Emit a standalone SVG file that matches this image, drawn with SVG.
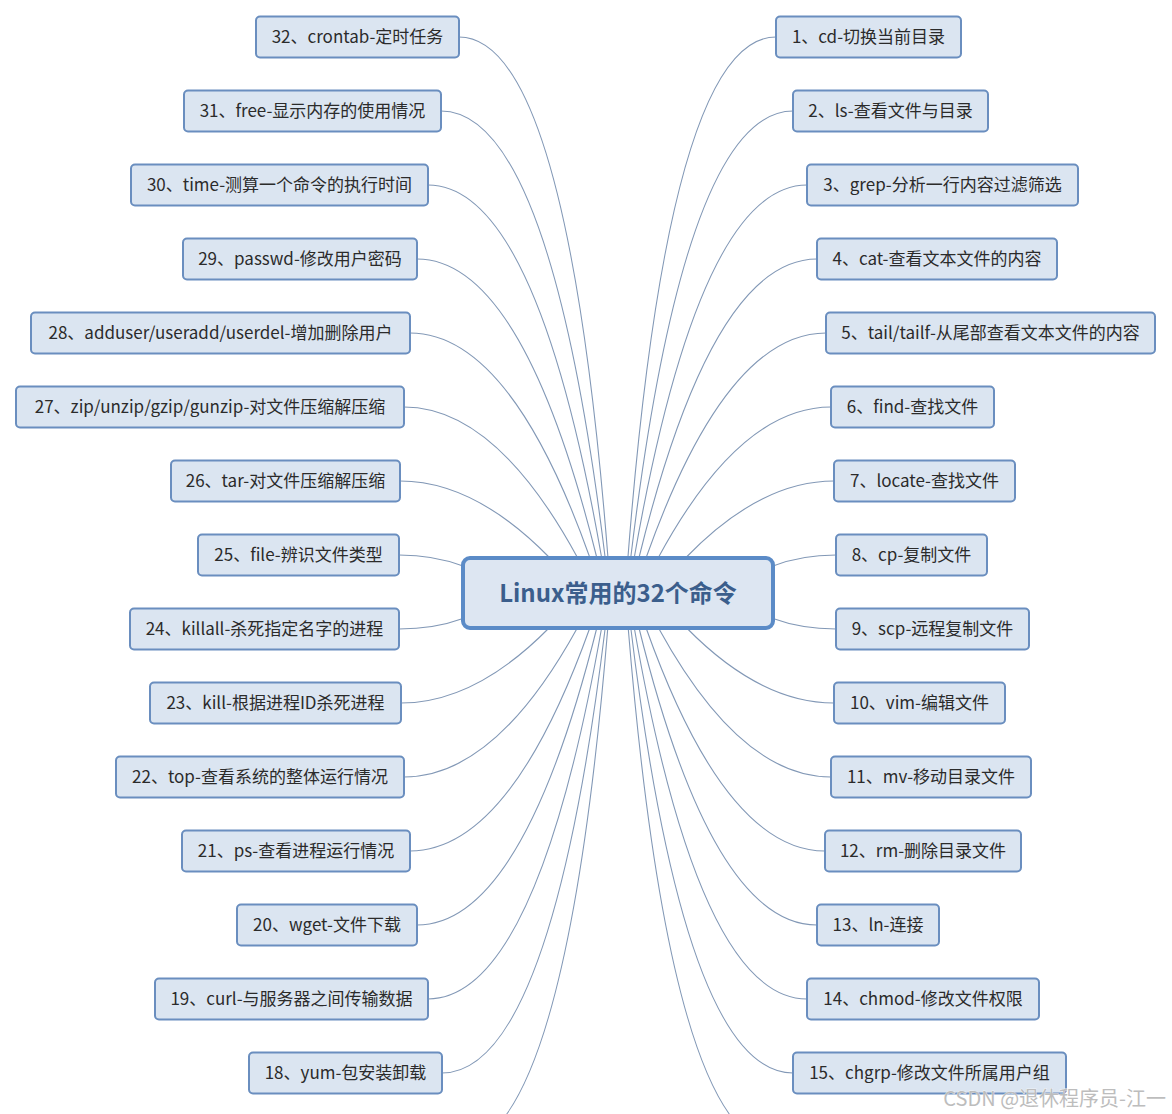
<svg xmlns="http://www.w3.org/2000/svg" width="1172" height="1114" viewBox="0 0 1172 1114">
<style>
.bg{fill:#ffffff}
.ln{fill:none;stroke:#8298b6;stroke-width:1.1}
.box{fill:#dbe5f1;stroke:#6a8ebf;stroke-width:2}
.lbl{font-family:"Noto Sans CJK SC","Microsoft YaHei","Noto Sans",sans-serif;font-size:17px;fill:#2b2b2b}
.root{fill:#dde6f2;stroke:#5b8bc7;stroke-width:4}
.rlbl{font-family:"Noto Sans CJK SC","Noto Sans",sans-serif;font-size:24px;font-weight:bold;fill:#3b5e8c}
.wm{font-family:"Noto Sans CJK SC","Noto Sans",sans-serif;font-size:20px;fill:#bdbdbd;stroke:#ffffff;stroke-width:0.6;paint-order:stroke}
</style>
<rect class="bg" x="0" y="0" width="1172" height="1114"/>
<g id="connectors">
<path class="ln" d="M608,558 Q567,37 459,37"/>
<path class="ln" d="M605.2,558 Q550.5,111 441,111"/>
<path class="ln" d="M601.7,558 Q536.4,185 428,185"/>
<path class="ln" d="M596.9,558 Q522.6,259 417,259"/>
<path class="ln" d="M590,558 Q510.1,333 410,333"/>
<path class="ln" d="M577.7,558 Q495.7,407 404,407"/>
<path class="ln" d="M549.9,558 Q474.9,481 400,481"/>
<path class="ln" d="M463,566.1 Q434.2,555 399,555"/>
<path class="ln" d="M463,618.5 Q434.2,629 399,629"/>
<path class="ln" d="M549,628 Q475,703 401,703"/>
<path class="ln" d="M577.3,628 Q495.3,777 404,777"/>
<path class="ln" d="M589.8,628 Q509.9,851 410,851"/>
<path class="ln" d="M596.8,628 Q522.4,925 417,925"/>
<path class="ln" d="M601.6,628 Q536.2,999 428,999"/>
<path class="ln" d="M605.2,628 Q550.9,1073 442,1073"/>
<path class="ln" d="M607.8,628 Q565.1,1147 456,1147"/>
<path class="ln" d="M627.9,558 Q668.4,37 776,37"/>
<path class="ln" d="M630.7,558 Q684.4,111 793,111"/>
<path class="ln" d="M634.2,558 Q699.1,185 807,185"/>
<path class="ln" d="M638.9,558 Q712.2,259 817,259"/>
<path class="ln" d="M646,558 Q725.9,333 826,333"/>
<path class="ln" d="M658.1,558 Q739.7,407 831,407"/>
<path class="ln" d="M685.5,558 Q759.75,481 834,481"/>
<path class="ln" d="M773,566 Q801.4,555 836,555"/>
<path class="ln" d="M773,618.6 Q801.4,629 836,629"/>
<path class="ln" d="M686.7,628 Q760.4,703 834,703"/>
<path class="ln" d="M658.5,628 Q740.1,777 831,777"/>
<path class="ln" d="M646.1,628 Q725.5,851 825,851"/>
<path class="ln" d="M639,628 Q712.4,925 817,925"/>
<path class="ln" d="M634.3,628 Q699.2,999 807,999"/>
<path class="ln" d="M630.8,628 Q684.7,1073 793,1073"/>
<path class="ln" d="M628.2,628 Q670.9,1147 780,1147"/>
</g>
<g id="root">
<rect class="root" x="463" y="558" width="310" height="70" rx="7"/>
<text class="rlbl" x="618" y="602" text-anchor="middle">Linux常用的32个命令</text>
</g>
<g id="n32"><rect class="box" x="256" y="16.5" width="203" height="41" rx="4"/><text class="lbl" x="357.5" y="43" text-anchor="middle">32、crontab-定时任务</text></g>
<g id="n31"><rect class="box" x="184" y="90.5" width="257" height="41" rx="4"/><text class="lbl" x="312.5" y="117" text-anchor="middle">31、free-显示内存的使用情况</text></g>
<g id="n30"><rect class="box" x="131" y="164.5" width="297" height="41" rx="4"/><text class="lbl" x="279.5" y="191" text-anchor="middle">30、time-测算一个命令的执行时间</text></g>
<g id="n29"><rect class="box" x="183" y="238.5" width="234" height="41" rx="4"/><text class="lbl" x="300" y="265" text-anchor="middle">29、passwd-修改用户密码</text></g>
<g id="n28"><rect class="box" x="31" y="312.5" width="379" height="41" rx="4"/><text class="lbl" x="220.5" y="339" text-anchor="middle">28、adduser/useradd/userdel-增加删除用户</text></g>
<g id="n27"><rect class="box" x="16" y="386.5" width="388" height="41" rx="4"/><text class="lbl" x="210" y="413" text-anchor="middle">27、zip/unzip/gzip/gunzip-对文件压缩解压缩</text></g>
<g id="n26"><rect class="box" x="171" y="460.5" width="229" height="41" rx="4"/><text class="lbl" x="285.5" y="487" text-anchor="middle">26、tar-对文件压缩解压缩</text></g>
<g id="n25"><rect class="box" x="198" y="534.5" width="201" height="41" rx="4"/><text class="lbl" x="298.5" y="561" text-anchor="middle">25、file-辨识文件类型</text></g>
<g id="n24"><rect class="box" x="130" y="608.5" width="269" height="41" rx="4"/><text class="lbl" x="264.5" y="635" text-anchor="middle">24、killall-杀死指定名字的进程</text></g>
<g id="n23"><rect class="box" x="150" y="682.5" width="251" height="41" rx="4"/><text class="lbl" x="275.5" y="709" text-anchor="middle">23、kill-根据进程ID杀死进程</text></g>
<g id="n22"><rect class="box" x="116" y="756.5" width="288" height="41" rx="4"/><text class="lbl" x="260" y="783" text-anchor="middle">22、top-查看系统的整体运行情况</text></g>
<g id="n21"><rect class="box" x="182" y="830.5" width="228" height="41" rx="4"/><text class="lbl" x="296" y="857" text-anchor="middle">21、ps-查看进程运行情况</text></g>
<g id="n20"><rect class="box" x="237" y="904.5" width="180" height="41" rx="4"/><text class="lbl" x="327" y="931" text-anchor="middle">20、wget-文件下载</text></g>
<g id="n19"><rect class="box" x="155" y="978.5" width="273" height="41" rx="4"/><text class="lbl" x="291.5" y="1005" text-anchor="middle">19、curl-与服务器之间传输数据</text></g>
<g id="n18"><rect class="box" x="249" y="1052.5" width="193" height="41" rx="4"/><text class="lbl" x="345.5" y="1079" text-anchor="middle">18、yum-包安装卸载</text></g>
<g id="n1"><rect class="box" x="776" y="16.5" width="185" height="41" rx="4"/><text class="lbl" x="868.5" y="43" text-anchor="middle">1、cd-切换当前目录</text></g>
<g id="n2"><rect class="box" x="793" y="90.5" width="195" height="41" rx="4"/><text class="lbl" x="890.5" y="117" text-anchor="middle">2、ls-查看文件与目录</text></g>
<g id="n3"><rect class="box" x="807" y="164.5" width="271" height="41" rx="4"/><text class="lbl" x="942.5" y="191" text-anchor="middle">3、grep-分析一行内容过滤筛选</text></g>
<g id="n4"><rect class="box" x="817" y="238.5" width="240" height="41" rx="4"/><text class="lbl" x="937" y="265" text-anchor="middle">4、cat-查看文本文件的内容</text></g>
<g id="n5"><rect class="box" x="826" y="312.5" width="329" height="41" rx="4"/><text class="lbl" x="990.5" y="339" text-anchor="middle">5、tail/tailf-从尾部查看文本文件的内容</text></g>
<g id="n6"><rect class="box" x="831" y="386.5" width="163" height="41" rx="4"/><text class="lbl" x="912.5" y="413" text-anchor="middle">6、find-查找文件</text></g>
<g id="n7"><rect class="box" x="834" y="460.5" width="181" height="41" rx="4"/><text class="lbl" x="924.5" y="487" text-anchor="middle">7、locate-查找文件</text></g>
<g id="n8"><rect class="box" x="836" y="534.5" width="151" height="41" rx="4"/><text class="lbl" x="911.5" y="561" text-anchor="middle">8、cp-复制文件</text></g>
<g id="n9"><rect class="box" x="836" y="608.5" width="193" height="41" rx="4"/><text class="lbl" x="932.5" y="635" text-anchor="middle">9、scp-远程复制文件</text></g>
<g id="n10"><rect class="box" x="834" y="682.5" width="171" height="41" rx="4"/><text class="lbl" x="919.5" y="709" text-anchor="middle">10、vim-编辑文件</text></g>
<g id="n11"><rect class="box" x="831" y="756.5" width="200" height="41" rx="4"/><text class="lbl" x="931" y="783" text-anchor="middle">11、mv-移动目录文件</text></g>
<g id="n12"><rect class="box" x="825" y="830.5" width="196" height="41" rx="4"/><text class="lbl" x="923" y="857" text-anchor="middle">12、rm-删除目录文件</text></g>
<g id="n13"><rect class="box" x="817" y="904.5" width="122" height="41" rx="4"/><text class="lbl" x="878" y="931" text-anchor="middle">13、ln-连接</text></g>
<g id="n14"><rect class="box" x="807" y="978.5" width="232" height="41" rx="4"/><text class="lbl" x="923" y="1005" text-anchor="middle">14、chmod-修改文件权限</text></g>
<g id="n15"><rect class="box" x="793" y="1052.5" width="273" height="41" rx="4"/><text class="lbl" x="929.5" y="1079" text-anchor="middle">15、chgrp-修改文件所属用户组</text></g>
<text class="wm" x="1166" y="1106" text-anchor="end">CSDN @退休程序员-江一</text>
</svg>
